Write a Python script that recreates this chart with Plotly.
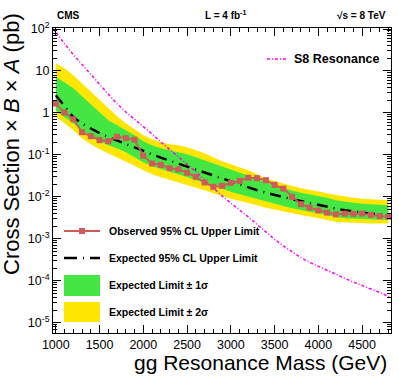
import plotly.graph_objects as go

# resonance mass points (GeV)
mass = [
    1000, 1100, 1200, 1300, 1400, 1500, 1600, 1700, 1800, 1900,
    2000, 2100, 2200, 2300, 2400, 2500, 2600, 2700, 2800, 2900,
    3000, 3100, 3200, 3300, 3400, 3500, 3600, 3700, 3800, 3900,
    4000, 4100, 4200, 4300, 4400, 4500, 4600, 4700, 4800,
]

observed = [
    1.67, 1.02, 0.708, 0.347, 0.279, 0.224, 0.212, 0.271, 0.250, 0.230,
    0.0957, 0.0624, 0.0578, 0.0482, 0.0452, 0.0377, 0.0299, 0.0220, 0.0173, 0.0183,
    0.0215, 0.0240, 0.0286, 0.0279, 0.0250, 0.0193, 0.0157, 0.0100, 0.0067, 0.00553,
    0.00474, 0.00421, 0.00383, 0.00398, 0.00394, 0.00398, 0.00373, 0.00347, 0.00338,
]

expected = [
    2.64, 1.44, 0.79, 0.553, 0.421, 0.329, 0.264, 0.218, 0.180, 0.148,
    0.122, 0.101, 0.0858, 0.0728, 0.0617, 0.0524, 0.0444, 0.0377, 0.0320, 0.0271,
    0.0230, 0.0195, 0.0166, 0.0144, 0.0126, 0.0110, 0.00984, 0.00881, 0.00790, 0.00708,
    0.00634, 0.00569, 0.00524, 0.00482, 0.00444, 0.00421, 0.00398, 0.00377, 0.00367,
]

one_sigma_up = [
    7.08, 5.38, 3.87, 2.50, 1.61, 1.04, 0.670, 0.509, 0.387, 0.294,
    0.212, 0.170, 0.144, 0.129, 0.119, 0.104, 0.0881, 0.0748, 0.0634, 0.0524,
    0.0444, 0.0377, 0.0329, 0.0271, 0.0224, 0.0190, 0.0161, 0.0141, 0.0126, 0.0116,
    0.0107, 0.00957, 0.00834, 0.00769, 0.00728, 0.00689, 0.00670, 0.00652, 0.00634,
]

one_sigma_down = [
    1.16, 0.791, 0.569, 0.387, 0.279, 0.212, 0.170, 0.144, 0.116, 0.0881,
    0.0670, 0.0538, 0.0457, 0.0398, 0.0347, 0.0294, 0.0250, 0.0212, 0.0180, 0.0152,
    0.0133, 0.0116, 0.0101, 0.00881, 0.00769, 0.00670, 0.00601, 0.00538, 0.00482, 0.00444,
    0.00409, 0.00367, 0.00329, 0.00311, 0.00303, 0.00294, 0.00294, 0.00286, 0.00286,
]

two_sigma_up = [
    15.2, 11.6, 7.91, 5.09, 3.11, 2.01, 1.29, 0.834, 0.569, 0.409,
    0.294, 0.237, 0.200, 0.180, 0.170, 0.152, 0.129, 0.110, 0.0881, 0.0708,
    0.0601, 0.0509, 0.0432, 0.0347, 0.0279, 0.0237, 0.0206, 0.0180, 0.0161, 0.0148,
    0.0137, 0.0122, 0.0110, 0.0101, 0.00957, 0.00906, 0.00881, 0.00857, 0.00834,
]

two_sigma_down = [
    0.834, 0.569, 0.387, 0.250, 0.180, 0.137, 0.110, 0.0881, 0.0708, 0.0553,
    0.0432, 0.0347, 0.0294, 0.0257, 0.0224, 0.0195, 0.0170, 0.0144, 0.0122, 0.0104,
    0.00906, 0.00812, 0.00728, 0.00634, 0.00553, 0.00495, 0.00444, 0.00398, 0.00367, 0.00338,
    0.00311, 0.00279, 0.00250, 0.00243, 0.00237, 0.00237, 0.00230, 0.00230, 0.00230,
]

# S8 theory curve
s8_mass = [
    950, 1000, 1100, 1200, 1300, 1400, 1500, 1600, 1700, 1800, 1900,
    2000, 2100, 2200, 2300, 2400, 2500, 2600, 2700, 2800, 2900,
    3000, 3100, 3200, 3300, 3400, 3500, 3600, 3700, 3800, 3900,
    4000, 4100, 4200, 4300, 4400, 4500, 4600, 4700, 4800, 4900,
]

s8_xsec = [
    115.0, 83.2, 44.7, 24.5, 14.5, 8.32, 4.79, 2.82, 1.66, 1.05, 0.708,
    0.479, 0.316, 0.204, 0.135, 0.0912, 0.0617, 0.0398, 0.0251, 0.0158, 0.0105,
    0.00708, 0.0049, 0.00331, 0.00219, 0.00145, 0.000977, 0.000676, 0.000479, 0.000355, 0.000275,
    0.000219, 0.000174, 0.000141, 0.000115, 0.0000933, 0.0000776, 0.0000631, 0.0000525, 0.0000427, 0.0000355,
]

y_tick_vals = [1e-5, 1e-4, 1e-3, 1e-2, 1e-1, 1, 10, 100]
y_tick_text = [
    '10<sup>-5</sup>', '10<sup>-4</sup>', '10<sup>-3</sup>', '10<sup>-2</sup>',
    '10<sup>-1</sup>', '1', '10', '10<sup>2</sup>',
]
x_tick_vals = [1000, 1500, 2000, 2500, 3000, 3500, 4000, 4500]

YELLOW = '#ffe600'
GREEN = '#44e644'
RED = '#cf5a5a'
MAGENTA = '#ff00ff'
FONT = 'Liberation Sans, Arial, sans-serif'

# plot area in pixels (used only to place the hand-made legend)
L, R, T, B = 53, 391, 28, 333


def px_x(p):
    return (p - L) / (R - L)


def px_y(p):
    return (B - p) / (B - T)


def band(fig, lo, hi, color):
    fig.add_trace(go.Scatter(
        x=mass, y=lo, mode='lines', line=dict(width=0, color=color),
        showlegend=False, hoverinfo='skip',
    ))
    fig.add_trace(go.Scatter(
        x=mass, y=hi, mode='lines', line=dict(width=0, color=color),
        fill='tonexty', fillcolor=color, showlegend=False, hoverinfo='skip',
    ))


fig = go.Figure()

band(fig, two_sigma_down, two_sigma_up, YELLOW)
band(fig, one_sigma_down, one_sigma_up, GREEN)

fig.add_trace(go.Scatter(
    x=s8_mass, y=s8_xsec, mode='lines',
    line=dict(color=MAGENTA, width=1.5, dash='3px,2px,1px,2px'),
    showlegend=False,
))
fig.add_trace(go.Scatter(
    x=mass, y=expected, mode='lines',
    line=dict(color='black', width=2.5, dash='11px,6px,1px,6px'),
    showlegend=False,
))
fig.add_trace(go.Scatter(
    x=mass, y=observed, mode='lines+markers',
    line=dict(color=RED, width=1.8),
    marker=dict(symbol='square', size=6, color=RED),
    showlegend=False,
))

shapes = []
annotations = []


def label(text, x, y, size, xanchor='left'):
    annotations.append(dict(
        text=text, x=x, y=y, xref='paper', yref='paper',
        xanchor=xanchor, yanchor='middle', showarrow=False,
        font=dict(family=FONT, size=size, color='black', weight='bold'),
    ))


# legend (lower left)
leg_x0, leg_x1, leg_text = px_x(64), px_x(100), px_x(107)
y_obs, y_exp = px_y(231), px_y(258)
shapes.append(dict(type='line', xref='paper', yref='paper', x0=leg_x0, x1=leg_x1,
                   y0=y_obs, y1=y_obs, line=dict(color=RED, width=1.8)))
shapes.append(dict(type='rect', xref='paper', yref='paper',
                   x0=px_x(79), x1=px_x(85), y0=px_y(234), y1=px_y(228),
                   line=dict(width=0), fillcolor=RED))
shapes.append(dict(type='line', xref='paper', yref='paper', x0=leg_x0, x1=leg_x1,
                   y0=y_exp, y1=y_exp,
                   line=dict(color='black', width=2.5, dash='13px,6px,1px,6px')))
shapes.append(dict(type='rect', xref='paper', yref='paper', x0=leg_x0, x1=leg_x1,
                   y0=px_y(296), y1=px_y(275), line=dict(width=0), fillcolor=GREEN))
shapes.append(dict(type='rect', xref='paper', yref='paper', x0=leg_x0, x1=leg_x1,
                   y0=px_y(322), y1=px_y(302), line=dict(width=0), fillcolor=YELLOW))

label('Observed 95% CL Upper Limit', leg_text, y_obs, 10.5)
label('Expected 95% CL Upper Limit', leg_text, y_exp, 10.5)
label('Expected Limit ± 1σ', leg_text, px_y(285), 10.5)
label('Expected Limit ± 2σ', leg_text, px_y(312), 10.5)

# S8 legend (upper right)
y_s8 = px_y(59)
shapes.append(dict(type='line', xref='paper', yref='paper', x0=px_x(267), x1=px_x(287),
                   y0=y_s8, y1=y_s8,
                   line=dict(color=MAGENTA, width=1.5, dash='3px,2px,1px,2px')))
label('S8 Resonance', px_x(292), y_s8, 12.5)

# header
label('CMS', px_x(55), px_y(15), 10)
label('L = 4 fb<sup>-1</sup>', px_x(203), px_y(15), 10)
label('√s = 8 TeV', px_x(388), px_y(15), 10, xanchor='right')

# axis titles (right aligned as in the original)
annotations.append(dict(
    text='Cross Section × <i>B</i> × <i>A</i> (pb)', textangle=-90,
    x=px_x(11), y=px_y(144), xref='paper', yref='paper',
    xanchor='center', yanchor='middle', showarrow=False,
    font=dict(family=FONT, size=22, color='black'),
))
annotations.append(dict(
    text='gg Resonance Mass (GeV)',
    x=px_x(389), y=px_y(362), xref='paper', yref='paper',
    xanchor='right', yanchor='middle', showarrow=False,
    font=dict(family=FONT, size=21, color='black'),
))

axis_common = dict(
    showline=True, linecolor='black', linewidth=1, mirror='ticks',
    ticks='inside', ticklen=8, tickcolor='black', tickwidth=1,
    showgrid=False, zeroline=False,
    tickfont=dict(family=FONT, size=12.5, color='black'),
)

fig.update_layout(
    width=399,
    height=384,
    margin=dict(l=L, r=399 - R, t=T, b=384 - B),
    paper_bgcolor='white',
    plot_bgcolor='white',
    showlegend=False,
    shapes=shapes,
    annotations=annotations,
    xaxis=dict(
        range=[968, 4830],
        tickvals=x_tick_vals,
        ticktext=[str(v) for v in x_tick_vals],
        minor=dict(dtick=100, ticks='inside', ticklen=4, tickcolor='black', showgrid=False),
        **axis_common,
    ),
    yaxis=dict(
        type='log',
        range=[-5.245, 2.024],
        tickvals=y_tick_vals,
        ticktext=y_tick_text,
        minor=dict(dtick='D1', ticks='inside', ticklen=4, tickcolor='black', showgrid=False),
        **axis_common,
    ),
)

# the page's default body margin would shift the figure by 8px
fig.write_html(
    'out.html',
    config={'displayModeBar': False},
    post_script="document.body.style.margin = '0';",
)
